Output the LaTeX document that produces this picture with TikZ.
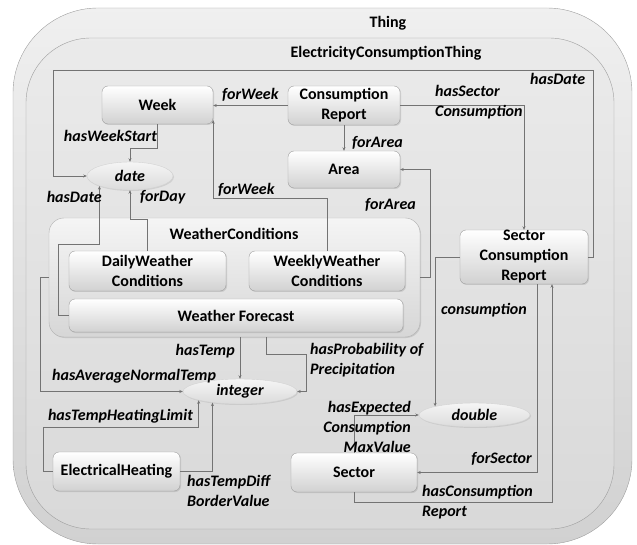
\documentclass[tikz,border=0pt]{standalone}
\usepackage{fontspec}
\setmainfont{Carlito}
\usetikzlibrary{arrows.meta,calc,shapes.geometric,shadows,positioning}

\begin{document}
\begin{tikzpicture}[x=1pt, y=-1pt,
		frame/.style = {draw=gray!75, inner sep=0pt},
		cls/.style = {draw=gray!75, rounded corners=6pt, top color=white, bottom color=gray!36,
					inner sep=0pt, align=center, font=\fontsize{16}{20}\selectfont\bfseries,
					drop shadow={opacity=0.25, shadow xshift=1pt, shadow yshift=-1pt}},
		dtype/.style = {ellipse, draw=gray!35, top color=gray!8, bottom color=gray!28, inner sep=0pt,
					font=\fontsize{16}{20}\selectfont\bfseries\itshape,
					drop shadow={opacity=0.2, shadow xshift=1pt, shadow yshift=-1pt}},
		title/.style = {inner sep=0pt, font=\fontsize{16}{20}\selectfont\bfseries},
		prop/.style = {inner sep=0pt, align=left, font=\fontsize{16}{20}\selectfont\bfseries\itshape},
		rel/.style = {draw=black!55, line width=0.6pt, -{Stealth[length=3.5pt, width=3pt]}}
	]
	\useasboundingbox (0,0) rectangle (637,545);
	\node [frame, rounded corners=85pt, top color=gray!12, bottom color=gray!36,
		minimum width=619pt, minimum height=536pt] (thing) at (322.5,276) {};
	\node [frame, rounded corners=65pt, top color=gray!16, bottom color=gray!30,
		minimum width=588pt, minimum height=491pt] (ect) at (320,283.5) {};
	\node [title] (thingT) at (388,23) {Thing};
	\node [title] (ectT) at (386,53) {ElectricityConsumptionThing};

	\node [cls, minimum width=111pt, minimum height=38pt] (week) at (157.5,105) {Week};
	\node [cls, minimum width=112pt, minimum height=39pt] (cr) at (344,105.5) {Consumption\\Report};
	\node [cls, minimum width=112pt, minimum height=37pt] (area) at (344,169.5) {Area};
	\node [dtype, minimum width=86pt, minimum height=28pt] (date) at (130,176) {date};
	\node [cls, rounded corners=15pt, top color=gray!8, bottom color=gray!32, draw=gray!60,
		minimum width=371pt, minimum height=119pt] (wc) at (234.5,277.5) {};
	\node [title] (wcT) at (234,234) {WeatherConditions};
	\node [cls, minimum width=157pt, minimum height=40pt] (daily) at (147.5,271) {DailyWeather\\Conditions};
	\node [cls, minimum width=156pt, minimum height=40pt] (weekly) at (327,271) {WeeklyWeather\\Conditions};
	\node [cls, minimum width=334pt, minimum height=33pt] (wf) at (236,315.5) {Weather Forecast};
	\node [cls, minimum width=128pt, minimum height=54pt] (scr) at (524,257) {Sector\\Consumption\\Report};
	\node [dtype, minimum width=114pt, minimum height=25pt] (integer) at (240,391.5) {integer};
	\node [dtype, minimum width=111pt, minimum height=24pt] (double) at (474.5,415) {double};
	\node [cls, minimum width=127pt, minimum height=39pt] (eh) at (116.5,471.5) {ElectricalHeating};
	\node [cls, minimum width=126pt, minimum height=39pt] (sector) at (354,472.5) {Sector};
	\coordinate (dateLoop) at (53,70);

	\draw [rel] (cr.west) -- (cr.west -| week.east);
	\draw [rel] (cr.east) -| (scr.north);
	\draw [rel] (cr.south) -- (area.north);
	\draw [rel] (week.south) -- ++(0,24) -| (date.north);
	\draw [rel] (scr.east) -- ++(5,0) |- (dateLoop) |- (date.west);
	\draw [rel] (weekly.north) -- ++(0,-52) -| ([yshift=4pt]week.south east);
	\draw [rel] (wf.west) -- ++(-11,0) |- ($(date.south west)+(0,58)$) -- (date.south west);
	\draw [rel] (daily.north) -- ++(0,-31) -| (date.south);
	\draw [rel] (wc.east) -- ++(10,0) |- (area.east);
	\draw [rel] (scr.west) -| (double.north west);
	\draw [rel] (wc.south -| integer.north) -- (integer.north);
	\draw [rel] ([xshift=32pt]wc.south) -- ++(0,17) -- ++(40,0) |- (integer.east);
	\draw [rel] (wc.west) -- ++(-9,0) |- (integer.west);
	\draw [rel] (eh.west) -- ++(-10,0) |- ($(integer.192)+(0,27)$) -- (integer.192);
	\draw [rel] (eh.east) -| (integer.202);
	\draw [rel] (sector.north) |- (double.west);
	\draw [rel] ([xshift=13pt]scr.south) |- (sector.east);
	\draw [rel] (sector.south) -- ++(0,10) -| ([xshift=28pt]scr.south);

	\node [prop, anchor=west] (lForWeekA) at (222,95) {forWeek};
	\node [prop, anchor=west] (lSectorCons) at (435,102.5) {hasSector\\Consumption};
	\node [prop, anchor=west] (lForAreaA) at (352,143) {forArea};
	\node [prop, anchor=east] (lWeekStart) at (157,136) {hasWeekStart};
	\node [prop, anchor=west] (lHasDateA) at (530,79) {hasDate};
	\node [prop, anchor=west] (lForWeekB) at (218,190) {forWeek};
	\node [prop, anchor=east] (lHasDateB) at (102,197) {hasDate};
	\node [prop, anchor=west] (lForDay) at (140,197) {forDay};
	\node [prop, anchor=west] (lForAreaB) at (365,205) {forArea};
	\node [prop, anchor=west] (lConsumption) at (441,310) {consumption};
	\node [prop, anchor=east] (lHasTemp) at (235,351) {hasTemp};
	\node [prop, anchor=west] (lPrecip) at (310,360) {hasProbability of\\Precipitation};
	\node [prop, anchor=west] (lAvgTemp) at (52,376) {hasAverageNormalTemp};
	\node [prop, anchor=east] (lHeatLimit) at (193,416) {hasTempHeatingLimit};
	\node [prop, anchor=west] (lTempDiff) at (187,491) {hasTempDiff\\BorderValue};
	\node [prop, anchor=east, align=right] (lMaxValue) at (411,427) {hasExpected\\Consumption\\MaxValue};
	\node [prop, anchor=east] (lForSector) at (532,459) {forSector};
	\node [prop, anchor=west] (lConsReport) at (422,502) {hasConsumption\\Report};
\end{tikzpicture}
\end{document}
